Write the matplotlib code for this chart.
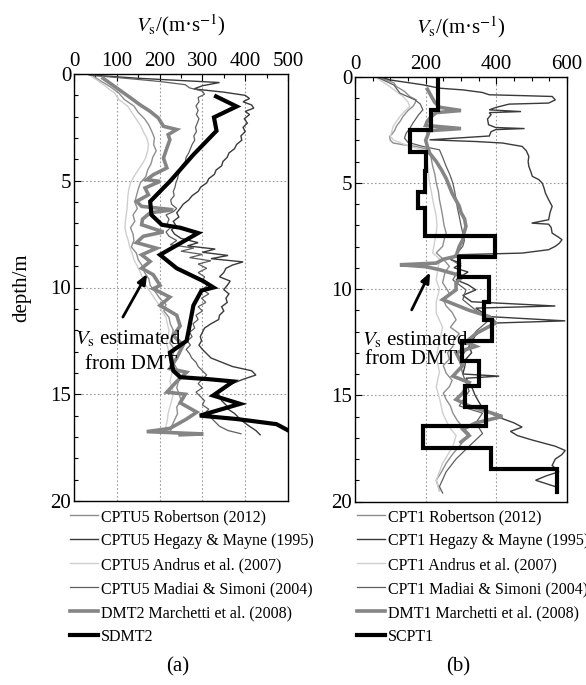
import numpy as np
import matplotlib
matplotlib.use("Agg")
import matplotlib.pyplot as plt

plt.rcParams['font.family'] = ['Liberation Serif', 'DejaVu Serif']
plt.rcParams['mathtext.fontset'] = 'stix'

# ---------------- data: (depth m, Vs m/s) ----------------
# panel (a)
a_robertson = [(0.1,45),(0.3,60),(0.6,85),(0.9,105),(1.2,118),(1.5,140),(1.8,150),(2.1,165),(2.4,175),(2.7,182),
               (3.0,188),(3.3,186),(3.6,192),(3.9,184),(4.2,180),(4.5,172),(4.8,168),(5.1,155),(5.4,150),(5.7,146),
               (6.0,142),(6.3,148),(6.6,138),(6.9,142),(7.2,132),(7.5,138),(7.8,140),(8.1,134),(8.4,146),(8.7,150),
               (9.0,160),(9.3,165),(9.6,175),(9.9,178),(10.2,190),(10.5,200),(10.8,215),(11.1,210),(11.4,222),(11.7,225),
               (12.0,232),(12.3,228),(12.6,224),(12.9,235),(13.2,230),(13.5,232),(13.8,240),(14.1,248),(14.4,244),(14.7,240),
               (15.0,246),(15.3,250),(15.6,240),(15.9,242),(16.2,235),(16.5,228),(16.8,225)]
a_hegazy = [(0.05,40),(0.2,150),(0.4,340),(0.55,300),(0.7,280),(0.85,350),(1.0,400),(1.15,410),(1.3,395),(1.45,415),
            (1.6,420),(1.75,400),(1.9,410),(2.1,398),(2.3,405),(2.5,395),(2.7,400),(2.9,390),(3.1,392),(3.3,380),
            (3.5,375),(3.7,362),(3.9,358),(4.1,348),(4.3,345),(4.5,332),(4.7,328),(4.9,315),(5.1,310),(5.3,296),
            (5.5,290),(5.7,276),(5.9,268),(6.1,255),(6.3,248),(6.5,240),(6.7,245),(6.9,232),(7.1,238),(7.3,228),
            (7.5,235),(7.7,250),(7.9,290),(8.05,265),(8.2,330),(8.35,300),(8.5,360),(8.65,320),(8.8,395),(8.95,370),
            (9.1,355),(9.3,350),(9.5,340),(9.7,365),(9.9,358),(10.1,350),(10.3,362),(10.5,355),(10.7,358),(10.9,345),
            (11.1,350),(11.3,340),(11.5,338),(11.7,320),(11.9,305),(12.1,300),(12.3,295),(12.5,298),(12.7,292),(12.9,300),
            (13.1,310),(13.3,320),(13.5,345),(13.7,370),(13.9,415),(14.1,425),(14.3,395),(14.5,370),(14.7,350),(14.9,335),
            (15.1,340),(15.3,345),(15.5,355),(15.7,360),(15.9,375),(16.1,385),(16.3,396),(16.5,410),(16.7,425),(16.9,435)]
a_andrus = [(0.1,40),(0.3,55),(0.6,75),(0.9,95),(1.2,105),(1.5,125),(1.8,135),(2.1,145),(2.4,155),(2.7,162),
            (3.0,170),(3.3,174),(3.6,172),(3.9,168),(4.2,160),(4.5,150),(4.8,140),(5.1,132),(5.4,128),(5.7,126),
            (6.0,125),(6.3,124),(6.6,122),(6.9,120),(7.2,119),(7.5,122),(7.8,127),(8.1,130),(8.4,136),(8.7,140),
            (9.0,148),(9.3,155),(9.6,162),(9.9,168),(10.2,178),(10.5,188),(10.8,198),(11.1,205),(11.4,215),(11.7,218),
            (12.0,222),(12.3,220),(12.6,216),(12.9,220),(13.2,224),(13.5,226),(13.8,232),(14.1,228),(14.4,224),(14.7,230),
            (15.0,232),(15.3,228),(15.6,224),(15.9,220),(16.2,218),(16.5,215),(16.8,212)]
a_madiai = [(0.05,35),(0.2,120),(0.35,200),(0.5,260),(0.65,270),(0.8,300),(0.95,305),(1.1,290),(1.3,292),(1.5,285),
            (1.7,290),(1.9,286),(2.1,292),(2.3,288),(2.5,284),(2.7,286),(2.9,280),(3.1,282),(3.3,276),(3.5,272),
            (3.7,268),(3.9,262),(4.1,260),(4.3,252),(4.5,250),(4.7,244),(4.9,242),(5.1,238),(5.3,236),(5.5,232),
            (5.7,234),(5.9,226),(6.1,228),(6.3,240),(6.45,232),(6.6,215),(6.8,222),(7.0,218),(7.2,225),(7.4,215),
            (7.6,222),(7.8,240),(8.0,225),(8.15,280),(8.3,250),(8.45,300),(8.6,270),(8.75,320),(8.9,290),(9.1,310),
            (9.3,290),(9.5,305),(9.7,300),(9.9,312),(10.1,300),(10.3,315),(10.5,298),(10.7,308),(10.9,290),(11.1,300),
            (11.3,285),(11.5,290),(11.7,278),(11.9,282),(12.1,270),(12.3,276),(12.5,265),(12.7,272),(12.9,262),(13.1,270),
            (13.3,275),(13.5,285),(13.7,290),(13.9,300),(14.1,310),(14.3,300),(14.5,290),(14.7,300),(14.9,285),(15.1,295),
            (15.3,305),(15.5,300),(15.7,315),(15.9,305),(16.1,320),(16.3,330),(16.5,340),(16.7,360),(16.85,390)]
a_dmt = [(0.2,68),(0.66,100),(1.1,131),(1.44,154),(1.75,178),(2.06,197),(2.45,209),(2.6,240),(2.84,220),(3.08,224),
         (3.47,217),(3.94,209),(4.4,217),(4.72,185),(4.95,170),(5.03,201),(5.34,166),(5.66,174),(5.97,146),(6.2,158),
         (6.36,232),(6.5,178),(6.8,160),(7.06,158),(7.4,209),(7.6,162),(7.9,146),(8.16,193),(8.47,158),(8.78,178),
         (9.1,158),(9.4,185),(9.9,201),(10.06,185),(10.45,224),(10.84,201),(11.3,240),(11.8,248),(12.25,232),(12.7,255),
         (13.3,240),(13.8,224),(13.97,263),(14.4,240),(14.9,217),(15.0,260),(15.4,248),(15.84,287),(16.16,263),(16.6,224),
         (16.75,170),(16.86,302),(16.9,248)]
a_sdmt = [(1.05,332),(1.52,380),(2.03,327),(2.66,333),(3.78,279),(5.03,224),(5.97,178),(6.6,181),(7.06,205),(7.2,248),
          (7.45,290),(8.47,201),(9.1,240),(9.7,302),(10.0,326),(10.14,298),(10.84,279),(12.1,267),(12.5,263),(13.05,224),
          (13.9,232),(14.2,248),(14.3,318),(14.4,372),(15.06,325),(15.45,388),(16.0,294),(16.16,380),(16.4,473),(16.7,501)]

# panel (b)
b_robertson = [(0.05,70),(0.3,110),(0.47,117),(0.7,140),(0.94,155),(1.1,173),(1.25,170),(1.41,164),(1.6,150),(1.88,136),
               (2.1,128),(2.35,117),(2.55,112),(2.7,105),(2.82,98),(3.0,100),(3.13,108),(3.25,150),(3.29,173),(3.45,211),
               (3.8,215),(4.23,220),(4.6,226),(5.02,230),(5.4,236),(5.8,239),(6.2,244),(6.58,248),(7.0,252),(7.37,258),
               (7.7,252),(7.99,248),(8.3,230),(8.6,250),(8.93,267),(9.2,255),(9.7,248),(10.2,267),(10.5,250),(10.8,258),
               (11.1,275),(11.45,286),(11.8,270),(12.1,295),(12.4,280),(12.7,277),(13.0,262),(13.3,267),(13.6,250),(13.96,258),
               (14.3,275),(14.6,267),(14.9,250),(15.2,258),(15.5,270),(15.84,277),(16.2,290),(16.5,305),(16.8,323),(17.1,310),
               (17.4,295),(17.8,275),(18.2,258),(18.6,245),(19.0,230),(19.3,236),(19.5,239)]
b_hegazy = [(0.0,70),(0.16,98),(0.39,192),(0.55,239),(0.63,305),(0.75,360),(0.86,380),(0.9,473),(0.94,558),(1.1,567),
            (1.25,548),(1.3,436),(1.45,400),(1.57,380),(1.65,470),(1.7,380),(1.8,385),(2.0,375),(2.27,378),(2.4,398),
            (2.45,480),(2.5,398),(2.6,385),(2.8,380),(2.98,211),(3.06,342),(3.13,417),(3.29,473),(3.5,485),(3.76,492),
            (4.0,490),(4.23,492),(4.5,498),(4.7,502),(4.85,520),(5.02,530),(5.25,535),(5.49,539),(5.8,548),(6.11,558),
            (6.4,552),(6.74,548),(6.9,500),(6.95,548),(7.1,555),(7.37,558),(7.55,575),(7.68,586),(7.85,578),(7.99,567),
            (8.15,548),(8.31,473),(8.39,286),(8.6,270),(8.8,300),(9.0,280),(9.2,320),(9.4,300),(9.57,286),(9.8,320),
            (10.04,342),(10.3,305),(10.6,330),(10.8,567),(10.9,342),(11.1,360),(11.3,380),(11.5,595),(11.6,398),(11.9,361),
            (12.2,340),(12.7,323),(13.0,330),(13.3,314),(13.7,310),(14.0,305),(14.1,408),(14.2,314),(14.6,330),(15.0,340),
            (15.3,350),(15.6,361),(15.9,390),(16.1,417),(16.3,450),(16.5,473),(16.7,440),(16.9,460),(17.1,500),(17.4,567),
            (17.6,595),(17.8,585),(18.0,567),(18.3,558),(18.6,577),(18.8,540),(19.0,511),(19.1,530),(19.3,567),(19.45,575)]
b_andrus = [(0.05,61),(0.47,98),(0.94,136),(1.2,150),(1.41,155),(1.65,140),(1.88,127),(2.1,118),(2.35,108),(2.6,104),
            (2.82,100),(3.0,110),(3.29,155),(3.45,192),(3.8,200),(4.23,206),(4.6,208),(5.02,211),(5.4,216),(5.8,220),
            (6.2,225),(6.58,230),(7.0,232),(7.37,230),(7.8,225),(8.3,220),(8.6,240),(9.0,235),(9.57,230),(10.0,239),
            (10.6,230),(11.14,230),(11.8,248),(12.5,239),(13.2,230),(13.9,239),(14.6,230),(15.2,240),(15.84,248),(16.5,267),
            (16.9,286),(17.4,277),(18.2,248),(19.0,230),(19.5,239)]
b_madiai = [(0.05,65),(0.4,110),(0.78,127),(1.1,170),(1.3,185),(1.57,192),(1.8,180),(2.19,164),(2.45,155),(2.66,145),
            (2.9,140),(3.1,150),(3.29,192),(3.45,239),(3.8,248),(4.23,258),(4.6,268),(5.02,277),(5.4,282),(5.8,286),
            (6.2,290),(6.58,295),(7.0,300),(7.37,305),(7.7,310),(7.99,305),(8.3,290),(8.6,270),(8.9,300),(9.2,290),
            (9.57,277),(10.04,314),(10.5,305),(11.0,342),(11.45,380),(12.0,342),(12.7,323),(13.3,295),(14.0,305),(14.8,323),
            (15.5,295),(15.84,361),(16.3,342),(16.8,361),(17.4,323),(18.0,286),(18.6,258),(19.3,239),(19.6,248)]
b_dmt = [(0.6,205),(0.9,215),(1.2,225),(1.45,240),(1.6,300),(1.7,230),(1.9,215),(2.1,205),(2.3,200),(2.45,300),
         (2.55,210),(2.8,205),(3.0,200),(3.3,205),(3.6,211),(4.0,230),(4.4,245),(4.8,258),(5.17,267),(5.5,275),
         (5.8,285),(6.1,295),(6.4,300),(6.7,310),(7.05,314),(7.4,308),(7.68,305),(8.0,295),(8.46,286),(8.6,250),
         (8.78,230),(8.86,127),(8.95,200),(9.09,239),(9.4,305),(9.72,286),(10.04,286),(10.5,248),(11.0,323),(11.3,380),
         (11.6,398),(12.1,342),(12.5,314),(12.7,342),(13.0,286),(13.6,305),(14.1,277),(14.4,323),(14.9,305),(15.2,286),
         (15.5,323),(15.8,380),(16.0,417),(16.3,342),(16.6,305),(16.9,323),(17.2,300)]
b_scpt_top = [0, 1.57, 2.5, 3.53, 4.47, 5.45, 6.19, 7.49, 8.5, 9.45, 10.59, 11.45, 12.47, 13.41, 14.56, 15.53, 16.47, 17.48, 18.46]
b_scpt_bot = [1.57, 2.5, 3.53, 4.47, 5.45, 6.19, 7.49, 8.5, 9.45, 10.59, 11.45, 12.47, 13.41, 14.56, 15.53, 16.47, 17.48, 18.46, 19.53]
b_scpt_vs = [234, 216, 155, 202, 197, 178, 197, 397, 293, 380, 366, 389, 303, 350, 312, 370, 192, 384, 572]

labels_a = ['CPTU5 Robertson (2012)', 'CPTU5 Hegazy & Mayne (1995)', 'CPTU5 Andrus et al. (2007)',
            'CPTU5 Madiai & Simoni (2004)', 'DMT2 Marchetti et al. (2008)', 'SDMT2']
labels_b = ['CPT1 Robertson (2012)', 'CPT1 Hegazy & Mayne (1995)', 'CPT1 Andrus et al. (2007)',
            'CPT1 Madiai & Simoni (2004)', 'DMT1 Marchetti et al. (2008)', 'SCPT1']

styles = [dict(color='#8e8e8e', lw=1.0),
          dict(color='#3a3a3a', lw=1.0),
          dict(color='#cfcfcf', lw=1.0),
          dict(color='#5e5e5e', lw=0.9),
          dict(color='#858585', lw=2.6),
          dict(color='black', lw=3.0)]

W, H = 586, 685
fig = plt.figure(figsize=(W/100, H/100), dpi=100)

def px_axes(x0, x1, y0, y1):
    return fig.add_axes([x0/W, 1 - y1/H, (x1-x0)/W, (y1-y0)/H])

axa = px_axes(74, 288, 74, 501)
axb = px_axes(355, 567, 76.5, 501.5)

def draw(ax, series, labels):
    handles = []
    for s, st, lab in zip(series, styles, labels):
        d = [p[0] for p in s]
        v = [p[1] for p in s]
        h, = ax.plot(v, d, solid_joinstyle='miter', label=lab, **st)
        handles.append(h)
    return handles

ha = draw(axa, [a_robertson, a_hegazy, a_andrus, a_madiai, a_dmt, a_sdmt], labels_a)

hb = draw(axb, [b_robertson, b_hegazy, b_andrus, b_madiai, b_dmt], labels_b)
sd = np.ravel(np.column_stack([b_scpt_top, b_scpt_bot]))
sv = np.repeat(b_scpt_vs, 2)
h, = axb.plot(sv, sd, label=labels_b[5], solid_joinstyle='miter', **styles[5])
hb.append(h)

def style_axis(ax, xmax, xmaj, xmin):
    ax.set_xlim(0, xmax)
    ax.set_ylim(20, 0)
    ax.xaxis.tick_top()
    ax.set_xticks(np.arange(0, xmax + 1, xmaj))
    ax.set_xticks(np.arange(0, xmax + 1, xmin), minor=True)
    ax.set_yticks([0, 5, 10, 15, 20])
    ax.set_yticks(np.arange(0, 21, 1), minor=True)
    ax.tick_params(which='both', direction='in', top=True, bottom=False, left=True, right=False,
                   labelsize=15, width=0.8)
    ax.tick_params(which='major', length=5, pad=2)
    ax.tick_params(which='minor', length=3)
    ax.grid(True, which='major', linestyle=(0, (1.5, 2)), color='#9a9a9a', lw=0.8)
    for sp in ax.spines.values():
        sp.set_linewidth(1.0)
    ax.set_xlabel(r'$V_{\rm s}$/(m·s$^{-1}$)', fontsize=15, labelpad=15)
    ax.xaxis.set_label_position('top')

style_axis(axa, 500, 100, 50)
style_axis(axb, 600, 200, 50)
axa.set_ylabel('depth/m', fontsize=15, labelpad=14)

# annotations
axa.annotate('', xy=(174, 9.25), xytext=(111, 11.5),
             arrowprops=dict(arrowstyle='-|>,head_length=0.6,head_width=0.25', color='black', lw=2))
axa.text(2, 12.4, r'$V_{\rm s}$ estimated', fontsize=15, va='center', ha='left')
axa.text(26, 13.6, 'from DMT', fontsize=15, va='center', ha='left')

axb.annotate('', xy=(216, 9.1), xytext=(157, 11.1),
             arrowprops=dict(arrowstyle='-|>,head_length=0.6,head_width=0.25', color='black', lw=2))
axb.text(19, 12.4, r'$V_{\rm s}$ estimated', fontsize=15, va='center', ha='left')
axb.text(28, 13.3, 'from DMT', fontsize=15, va='center', ha='left')

# legends
leg_kw = dict(loc='upper left', frameon=False, fontsize=11.5, handlelength=1.75,
              handletextpad=0.2, labelspacing=0.5, borderpad=0, borderaxespad=0)
fig.legend(handles=ha, bbox_to_anchor=(70/W, 1 - 509/H), **leg_kw)
fig.legend(handles=hb, bbox_to_anchor=(357/W, 1 - 509/H), **leg_kw)

fig.text(178/W, 1 - 667/H, '(a)', fontsize=15, ha='center', va='center')
fig.text(458/W, 1 - 667/H, '(b)', fontsize=15, ha='center', va='center')

fig.savefig('out.png', dpi=100)
